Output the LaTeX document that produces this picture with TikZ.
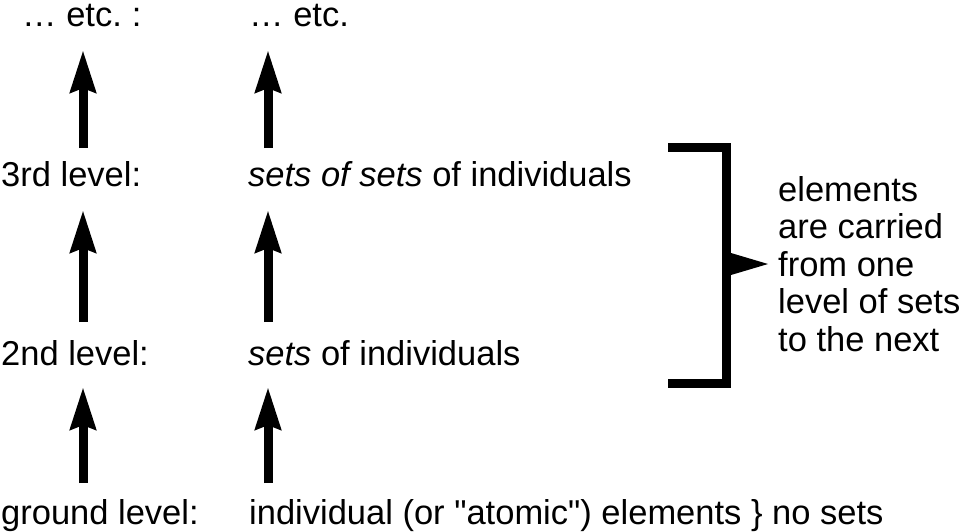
\documentclass[tikz,border=0pt]{standalone}
\usepackage{fontspec}
\setmainfont{Liberation Sans}[Ligatures=TeXOff]
\usetikzlibrary{arrows.meta}
\begin{document}
\begin{tikzpicture}[x=1pt,y=-1pt,
  lbl/.style={anchor=base west,inner sep=0pt,font=\fontsize{34.5}{37.5}\selectfont},
  uparrow/.style={line width=9pt,-{Stealth[length=42pt,width=25pt,inset=4pt]}},
  brk/.style={line width=9pt,line join=miter}]
\useasboundingbox (0,0) rectangle (965,531);
% left column
\node[lbl] (e1) at (22,26) {\dots\ etc.\kern10pt:};
\node[lbl] (l3) at (1,186) {3rd level:};
\node[lbl] (l2) at (1,365) {2nd level:};
\node[lbl] (l0) at (1,524) {ground level:};
% right column
\node[lbl] (e2) at (249,26) {\dots\ etc.};
\node[lbl] (s3) at (248,186) {\textit{sets of sets} of individuals};
\node[lbl] (s2) at (248,365) {\textit{sets} of individuals};
\node[lbl] (s0) at (249,524) {individual (or "atomic") elements \} no sets};
% arrow ends
\coordinate (a1b) at (83,148); \coordinate (a1t) at (83,50);
\coordinate (a2b) at (83,322); \coordinate (a2t) at (83,210);
\coordinate (a3b) at (83,483); \coordinate (a3t) at (83,387);
\coordinate (b1b) at (268,148); \coordinate (b1t) at (268,50);
\coordinate (b2b) at (268,322); \coordinate (b2t) at (268,210);
\coordinate (b3b) at (268,483); \coordinate (b3t) at (268,387);
\draw[uparrow] (a1b) -- (a1t);
\draw[uparrow] (a2b) -- (a2t);
\draw[uparrow] (a3b) -- (a3t);
\draw[uparrow] (b1b) -- (b1t);
\draw[uparrow] (b2b) -- (b2t);
\draw[uparrow] (b3b) -- (b3t);
% bracket
\coordinate (bt) at (668,147.5);
\coordinate (bb) at (668,383.5);
\draw[brk] (bt) -| (726.5,383.5) -- (bb);
\fill (731,253) -- (768,264) -- (731,275) -- cycle;
\node[lbl,anchor=north west,align=left] (note) at (778,176)
  {elements\\are carried\\from one\\level of sets\\to the next};
\end{tikzpicture}
\end{document}
